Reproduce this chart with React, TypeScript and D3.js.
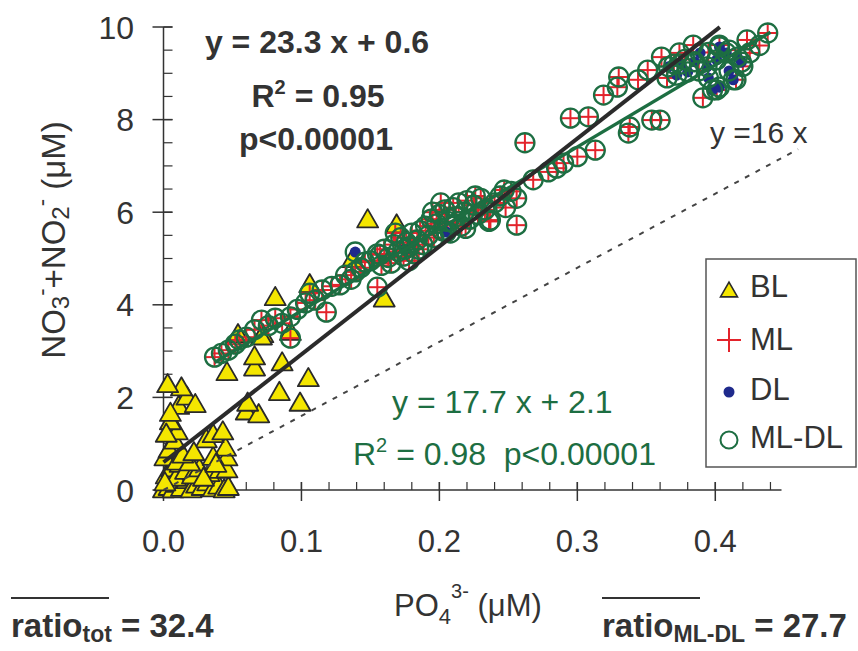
import React from "react";
import * as d3 from "d3";

const X_TICKS = [0, 0.1, 0.2, 0.3, 0.4];
const X_TICK_LABELS = ["0.0", "0.1", "0.2", "0.3", "0.4"];
const Y_TICKS = [0, 2, 4, 6, 8, 10];

const BL: [number, number][] = [
  [0.0, 0.0], [0.004, 0.05], [0.007, 0.0], [0.01, 0.12], [0.013, 0.03], [0.017, 0.2], [0.02, 0.0],
  [0.024, 0.1], [0.028, 0.05], [0.032, 0.15], [0.036, 0.02], [0.04, 0.08], [0.044, 0.0], [0.047, 0.05],
  [0.002, 0.3], [0.006, 0.45], [0.009, 0.25], [0.012, 0.55], [0.016, 0.4], [0.021, 0.3], [0.026, 0.45],
  [0.033, 0.35], [0.041, 0.42], [0.046, 0.43], [0.001, 0.69], [0.004, 0.86], [0.01, 0.6], [0.019, 0.58],
  [0.014, 0.75], [0.046, 0.69], [0.045, 0.9], [0.036, 0.7], [0.008, 1.05], [0.01, 1.25], [0.005, 1.47],
  [0.031, 1.08], [0.036, 1.19], [0.043, 1.25], [0.002, 1.2], [0.011, 1.8], [0.017, 2.0], [0.023, 1.84],
  [0.013, 2.2], [0.003, 2.27], [0.005, 1.65], [0.029, 0.25], [0.038, 0.55], [0.022, 0.8], [0.001, 0.15],
  [0.06, 1.68], [0.069, 1.62], [0.061, 1.87], [0.084, 2.1], [0.099, 1.87], [0.105, 2.4], [0.086, 2.74],
  [0.066, 2.63], [0.066, 2.87], [0.046, 2.53], [0.054, 3.35], [0.072, 3.35], [0.081, 4.15], [0.106, 4.43],
  [0.092, 3.4], [0.148, 5.83], [0.16, 4.12], [0.137, 4.97], [0.169, 5.72], [0.071, 3.3],
];

const ML: [number, number][] = [
  [0.037, 2.87], [0.042, 2.95], [0.047, 3.02], [0.052, 3.15], [0.055, 3.24], [0.06, 3.3], [0.066, 3.46],
  [0.071, 3.67], [0.076, 3.55], [0.081, 3.71], [0.086, 3.6], [0.092, 3.74], [0.092, 3.28], [0.097, 3.9],
  [0.103, 4.04], [0.106, 4.25], [0.11, 4.1], [0.115, 4.32], [0.118, 3.84], [0.122, 4.4], [0.128, 4.43],
  [0.132, 4.64], [0.136, 4.55], [0.139, 4.71], [0.143, 4.8], [0.146, 4.92], [0.155, 4.38], [0.157, 5.08],
  [0.15, 4.95], [0.155, 5.1], [0.158, 4.85], [0.16, 5.2], [0.163, 5.02], [0.165, 4.9], [0.167, 5.3],
  [0.17, 5.15], [0.172, 5.45], [0.174, 5.05], [0.176, 5.35], [0.178, 5.25], [0.18, 5.55], [0.182, 5.1],
  [0.184, 5.4], [0.186, 5.6], [0.188, 5.3], [0.19, 5.7], [0.192, 5.5], [0.194, 5.85], [0.196, 5.45],
  [0.198, 5.75], [0.2, 5.95], [0.202, 5.6], [0.204, 6.05], [0.206, 5.8], [0.208, 5.55], [0.21, 6.1],
  [0.212, 5.9], [0.214, 6.2], [0.216, 5.7], [0.218, 6.0], [0.22, 6.25], [0.222, 5.85], [0.225, 6.15],
  [0.228, 5.95], [0.23, 6.3], [0.233, 6.05], [0.236, 5.8], [0.24, 6.2], [0.244, 6.35], [0.248, 6.1],
  [0.252, 6.45], [0.256, 6.3], [0.168, 5.55], [0.185, 5.2], [0.195, 6.0], [0.211, 5.75], [0.226, 6.35],
  [0.178, 4.95], [0.201, 6.2], [0.219, 5.65],
  [0.237, 5.83], [0.256, 5.72], [0.247, 6.48], [0.262, 7.5], [0.268, 6.7], [0.279, 6.87], [0.285, 6.95],
  [0.29, 7.06], [0.3, 7.2], [0.313, 7.34], [0.337, 7.71], [0.338, 7.84], [0.354, 7.99], [0.36, 7.99],
  [0.295, 8.03], [0.308, 8.06], [0.319, 8.53], [0.329, 8.7], [0.33, 8.92], [0.344, 8.86], [0.351, 9.07],
  [0.361, 9.35], [0.374, 9.44], [0.384, 9.61], [0.391, 8.47], [0.401, 8.64], [0.415, 8.86], [0.423, 9.72],
  [0.425, 9.44], [0.438, 9.87], [0.403, 9.61], [0.37, 9.2], [0.378, 9.3], [0.395, 9.45], [0.41, 9.5],
  [0.365, 8.9], [0.388, 9.05], [0.42, 9.15], [0.432, 9.6],
];

const DL: [number, number][] = [
  [0.139, 5.14], [0.205, 5.57], [0.175, 5.2], [0.366, 9.14], [0.372, 8.96], [0.38, 9.03], [0.398, 8.64],
  [0.403, 8.7], [0.413, 8.86], [0.401, 9.29], [0.408, 9.44], [0.416, 9.35], [0.419, 9.24], [0.394, 9.14],
  [0.389, 9.44], [0.403, 9.57], [0.385, 9.25], [0.395, 8.9], [0.41, 9.05], [0.375, 9.2],
];

const FIT_TOT = { slope: 23.3, intercept: 0.6, x0: 0, x1: 0.4033 };
const FIT_MLDL = { slope: 17.7, intercept: 2.1, x0: 0.037, x1: 0.44 };
const REDFIELD = { slope: 16, x0: 0, x1: 0.46 };

const FONT = "'Liberation Sans', Arial, Helvetica, sans-serif";
const DARK = "#333333";
const GREEN = "#1d6e42";
const RED = "#e3232b";
const BLUE = "#1f2a8c";
const YELLOW = "#f4e600";

const triPath = (cx: number, cy: number, w: number) => {
  const h = w * 0.87;
  return `M${cx},${cy - h * 0.6}L${cx + w / 2},${cy + h * 0.4}L${cx - w / 2},${cy + h * 0.4}Z`;
};

export default function App() {
  const W = 858, H = 651;
  const x = d3.scaleLinear().domain([0, 0.448]).range([163.5, 781.5]);
  const y = d3.scaleLinear().domain([0, 10]).range([490, 27]);
  const xMinor = d3.range(0, 0.4481, 0.02);
  const yMinor = d3.range(0, 10.01, 0.5);
  const line = d3.line<[number, number]>().x(d => x(d[0])).y(d => y(d[1]));
  const totLine: [number, number][] = [FIT_TOT.x0, FIT_TOT.x1].map(v => [v, FIT_TOT.slope * v + FIT_TOT.intercept]);
  const mldlLine: [number, number][] = [FIT_MLDL.x0, FIT_MLDL.x1].map(v => [v, FIT_MLDL.slope * v + FIT_MLDL.intercept]);
  const redLine: [number, number][] = [REDFIELD.x0, REDFIELD.x1].map(v => [v, REDFIELD.slope * v]);
  const MLDL = ML.concat(DL);

  return (
    <svg width={W} height={H} style={{ position: "absolute", left: 0, top: 0, background: "#fff" }} fontFamily={FONT}>
      <rect x={0} y={0} width={W} height={H} fill="#fff" />
      {/* axes */}
      <line x1={x(0)} x2={x(0.448)} y1={y(0)} y2={y(0)} stroke={DARK} strokeWidth={1.5} />
      <line x1={x(0)} x2={x(0)} y1={y(0)} y2={y(10)} stroke={DARK} strokeWidth={1.5} />
      {xMinor.map((v, i) => (
        <line key={"xm" + i} x1={x(v)} x2={x(v)} y1={y(0)} y2={y(0) - 8} stroke={DARK} strokeWidth={1.2} />
      ))}
      {X_TICKS.map((v, i) => (
        <g key={"xt" + i}>
          <line x1={x(v)} x2={x(v)} y1={y(0) - 8} y2={y(0) + 11} stroke={DARK} strokeWidth={1.5} />
          <text x={x(v)} y={552} textAnchor="middle" fontSize={31} fill={DARK}>{X_TICK_LABELS[i]}</text>
        </g>
      ))}
      {yMinor.map((v, i) => (
        <line key={"ym" + i} x1={x(0)} x2={x(0) + 9} y1={y(v)} y2={y(v)} stroke={DARK} strokeWidth={1.2} />
      ))}
      {Y_TICKS.map((v, i) => (
        <g key={"yt" + i}>
          <line x1={x(0) - 11} x2={x(0) + 9} y1={y(v)} y2={y(v)} stroke={DARK} strokeWidth={1.5} />
          <text x={134} y={y(v) + 11.5} textAnchor="end" fontSize={32} fill={DARK}>{v}</text>
        </g>
      ))}

      {/* BL triangles */}
      {BL.map((d, i) => (
        <path key={"bl" + i} d={triPath(x(d[0]), y(d[1]), 21)} fill={YELLOW} stroke="#2a2a2a" strokeWidth={1.8} strokeLinejoin="round" />
      ))}
      {/* ML crosses */}
      {ML.map((d, i) => (
        <g key={"ml" + i} stroke={RED} strokeWidth={2}>
          <line x1={x(d[0]) - 10} x2={x(d[0]) + 10} y1={y(d[1])} y2={y(d[1])} />
          <line x1={x(d[0])} x2={x(d[0])} y1={y(d[1]) - 10} y2={y(d[1]) + 10} />
        </g>
      ))}
      {/* DL dots */}
      {DL.map((d, i) => (
        <circle key={"dl" + i} cx={x(d[0])} cy={y(d[1])} r={5.5} fill={BLUE} />
      ))}
      {/* ML-DL circles */}
      {MLDL.map((d, i) => (
        <circle key={"md" + i} cx={x(d[0])} cy={y(d[1])} r={9.5} fill="none" stroke={GREEN} strokeWidth={2.3} />
      ))}

      {/* regression lines */}
      <path d={line(mldlLine) || ""} stroke={GREEN} strokeWidth={3.4} fill="none" />
      <path d={line(totLine) || ""} stroke="#2b2b2b" strokeWidth={4} fill="none" />
      <path d={line(redLine) || ""} stroke="#444" strokeWidth={2} strokeDasharray="5,7" fill="none" />

      {/* annotations */}
      <g fontWeight="bold" fontSize={32} fill={DARK} textAnchor="middle">
        <text x={317} y={53}>y = 23.3 x + 0.6</text>
        <text x={318} y={107}>R<tspan fontSize={20} dy={-13}>2</tspan><tspan dy={13}> = 0.95</tspan></text>
        <text x={316} y={150}>p&lt;0.00001</text>
      </g>
      <g fontSize={32} fill={GREEN}>
        <text x={392} y={413}>y = 17.7 x + 2.1</text>
        <text x={353} y={465} style={{ whiteSpace: "pre" }}>R<tspan fontSize={20} dy={-13}>2</tspan><tspan dy={13}>{" = 0.98  p<0.00001"}</tspan></text>
      </g>
      <text x={710} y={143} fontSize={30} fill={DARK}>y =16 x</text>

      {/* legend */}
      <rect x={706} y={259} width={150} height={208} fill="#fff" stroke="#555" strokeWidth={1.5} />
      <path d={triPath(729, 291, 17)} fill={YELLOW} stroke="#2a2a2a" strokeWidth={1.6} />
      <text x={750} y={297} fontSize={31} fill={DARK}>BL</text>
      <g stroke={RED} strokeWidth={2}>
        <line x1={717} x2={741} y1={340} y2={340} />
        <line x1={729} x2={729} y1={328} y2={352} />
      </g>
      <text x={750} y={350} fontSize={31} fill={DARK}>ML</text>
      <circle cx={729} cy={392} r={5.5} fill={BLUE} />
      <text x={750} y={400} fontSize={31} fill={DARK}>DL</text>
      <circle cx={729} cy={440} r={8.5} fill="none" stroke={GREEN} strokeWidth={2} />
      <text x={750} y={448} fontSize={31} fill={DARK}>ML-DL</text>

      {/* axis titles */}
      <text transform="translate(65,240) rotate(-90)" textAnchor="middle" fontSize={33} fill={DARK}>
        NO<tspan fontSize={24} dy={4}>3</tspan><tspan fontSize={22} dy={-20}>-</tspan>
        <tspan dy={16}>+NO</tspan><tspan fontSize={24} dy={4}>2</tspan><tspan fontSize={22} dy={-20}>-</tspan>
        <tspan dy={16}> (μM)</tspan>
      </text>
      <text x={394} y={616} fontSize={31} fill={DARK}>
        PO<tspan fontSize={22} dy={8}>4</tspan><tspan fontSize={20} dy={-26}>3-</tspan><tspan dy={18}> (μM)</tspan>
      </text>

      {/* ratios */}
      <line x1={11} x2={109} y1={598} y2={598} stroke={DARK} strokeWidth={2} />
      <line x1={602} x2={700} y1={598} y2={598} stroke={DARK} strokeWidth={2} />
      <g fontWeight="bold" fontSize={33} fill={DARK}>
        <text x={11} y={637}>ratio<tspan fontSize={23} dy={5}>tot</tspan><tspan dy={-5}> = 32.4</tspan></text>
        <text x={602} y={637}>ratio<tspan fontSize={23} dy={5}>ML-DL</tspan><tspan dy={-5}> = 27.7</tspan></text>
      </g>
    </svg>
  );
}
